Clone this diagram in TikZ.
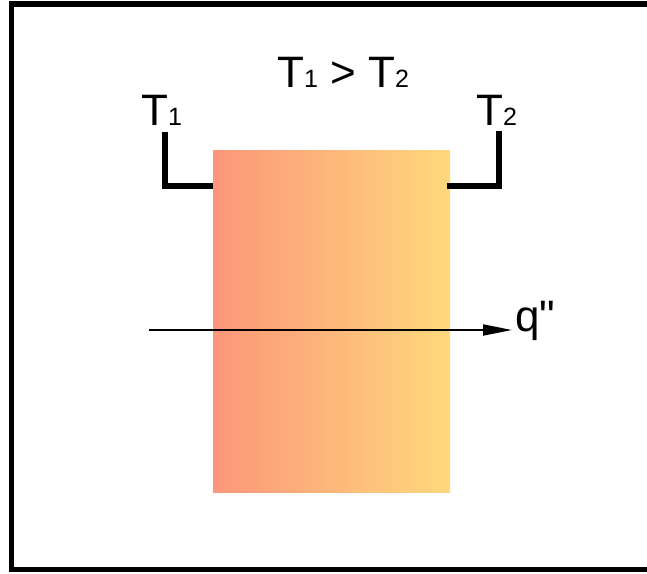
\documentclass[tikz,border=0pt]{standalone}
\usepackage{fontspec}
\setmainfont{Liberation Sans}
\newfontfamily\plainfont{Liberation Sans}[Ligatures=TeXOff]
\usetikzlibrary{arrows.meta}
\definecolor{slableft}{RGB}{252,150,122}
\definecolor{slabright}{RGB}{254,217,124}
\newcommand{\bigtxt}{\fontsize{44}{50}\selectfont}
\newcommand{\subtxt}[1]{{\fontsize{25}{25}\selectfont #1}}
\tikzset{
  lbl/.style={anchor=base west, inner sep=0pt, font=\bigtxt},
  bracket/.style={line width=6pt, line cap=butt, line join=miter},
  flux/.style={line width=2pt, -{Triangle[length=29pt,width=11pt]}},
  frame/.style={line width=5.5pt}
}
\begin{document}
\begin{tikzpicture}[x=1pt,y=-1pt]
\useasboundingbox (0,0) rectangle (647,573);
\clip (0,0) rectangle (647,573);
\fill[white] (0,0) rectangle (647,573);
% frame (right edge lies outside the picture)
\draw[frame] (11.5,4) rectangle (670,569.5);
% slab
\shade[left color=slableft, right color=slabright] (213,150) rectangle (450,492);
% brackets
\coordinate (b1top) at (165,132);
\coordinate (b1c) at (165,186);
\coordinate (b1end) at (213,186);
\coordinate (b2top) at (499,131);
\coordinate (b2c) at (499,186);
\coordinate (b2end) at (447,186);
\draw[bracket] (b1top) -- (b1c) -- (b1end);
\draw[bracket] (b2end) -- (b2c) -- (b2top);
% labels
\node[lbl] (t1) at (141,125) {T\subtxt{1}};
\node[lbl] (t2) at (476,125) {T\subtxt{2}};
\node[lbl] (cmp) at (277,87) {T\subtxt{1} > T\subtxt{2}};
% heat flux
\coordinate (qs) at (149,330);
\coordinate (qe) at (512,330);
\draw[flux] (qs) -- (qe);
\node[lbl] (q) at (515,331) {\plainfont q"};
\end{tikzpicture}
\end{document}
